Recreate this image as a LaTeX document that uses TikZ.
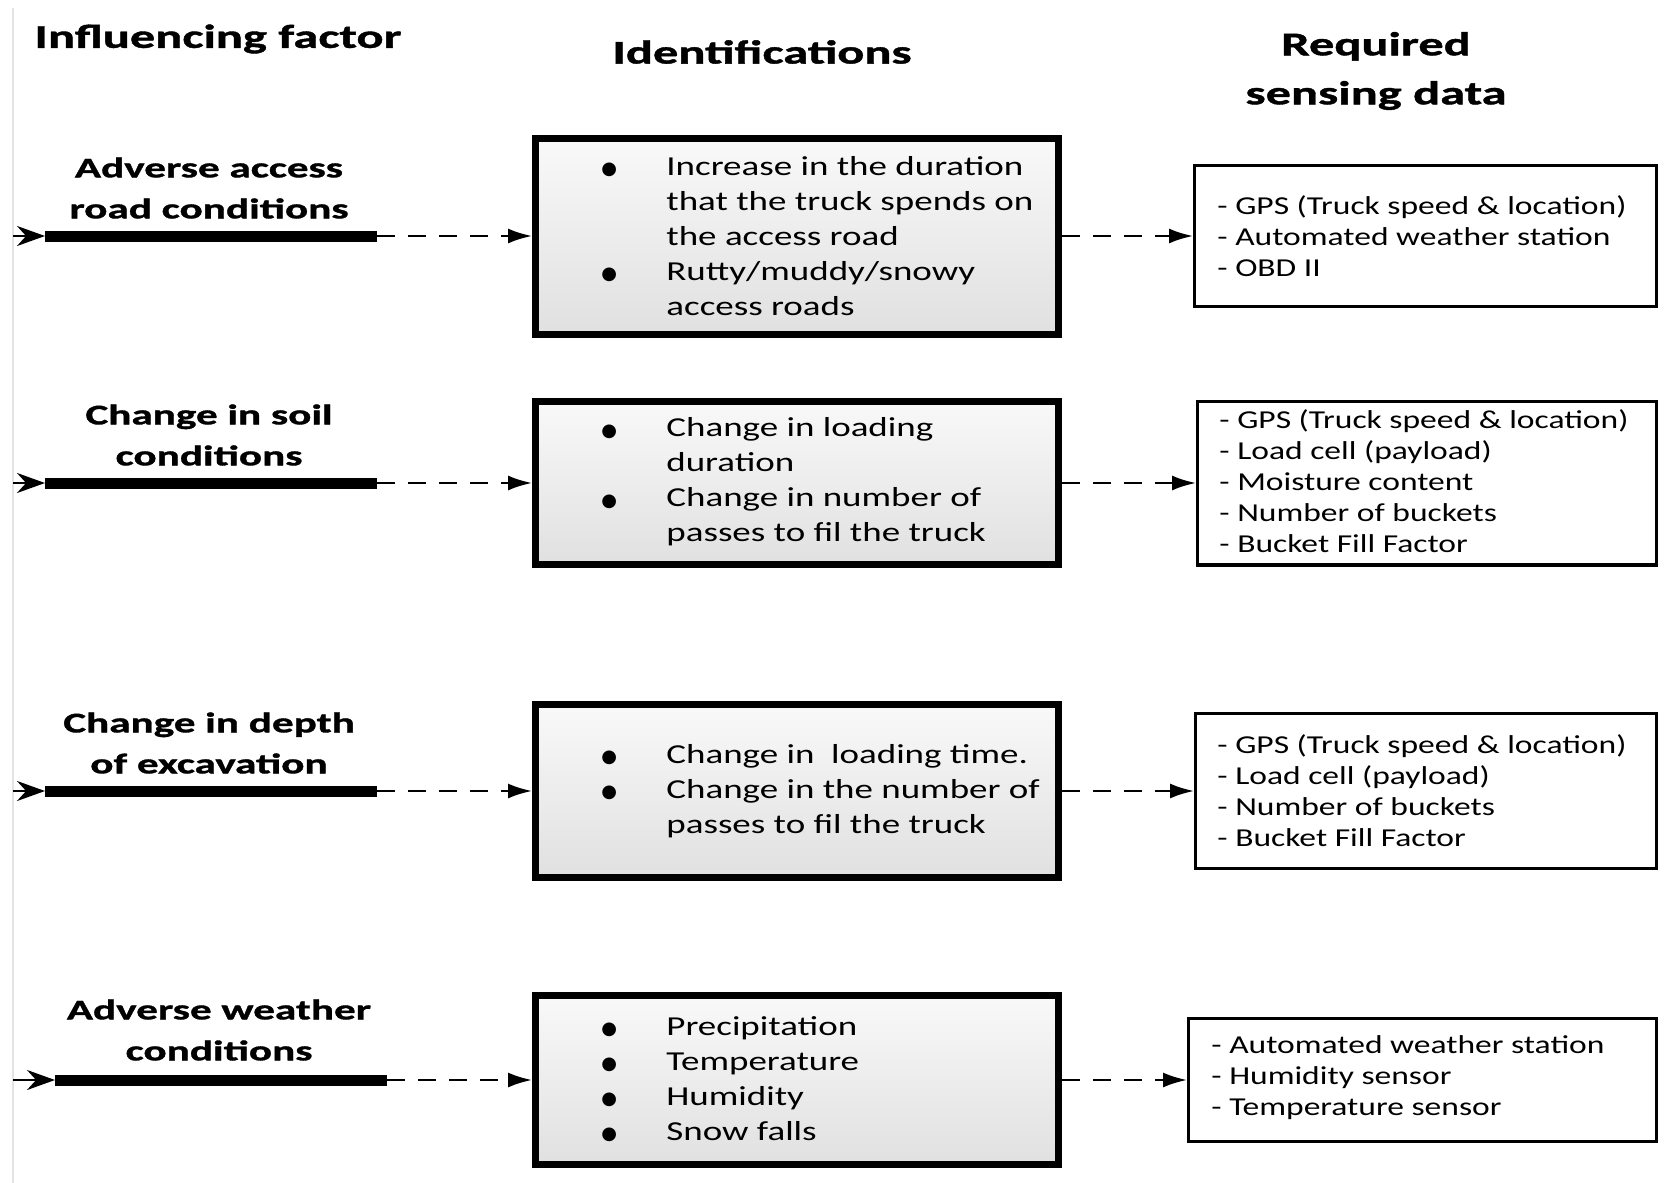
\documentclass[tikz,border=0pt]{standalone}
\usepackage{fontspec}
\setmainfont{Carlito}[FakeStretch=1.3]
\newfontfamily\listfont{Carlito}[FakeStretch=1.35]
\newfontfamily\headfont{Carlito}[FakeStretch=1.52, BoldFeatures={FakeBold=1.2}]
\newfontfamily\symfont{DejaVu Sans}
\usetikzlibrary{arrows.meta,shadows}

\colorlet{boxtop}{gray!5}
\colorlet{boxbot}{gray!24}
\definecolor{shadowtint}{RGB}{205,210,190}

% bullet mark and list indents
\newcommand\blt{\makebox[32.5pt][l]{\raisebox{0.3pt}{\fontsize{9}{9}\symfont ●}}}
\newcommand\ind{\hspace*{32.5pt}}

\begin{document}
\begin{tikzpicture}[x=0.5pt,y=-0.5pt,
  heading/.style={font=\headfont\bfseries\fontsize{16.6}{24.5}\selectfont, align=center, inner sep=0pt},
  factor/.style={font=\headfont\bfseries\fontsize{14.2}{20.5}\selectfont, align=center, inner sep=0pt},
  idbox/.style={draw=black, line width=3.5pt, top color=boxtop, bottom color=boxbot,
    minimum width=261.5pt, inner sep=0pt,
    drop shadow={shadow xshift=1.8pt, shadow yshift=-1.8pt, fill=shadowtint, opacity=0.9}},
  idtext/.style={font=\listfont\fontsize{13.7}{17.5}\selectfont, align=left, inner sep=0pt, anchor=west},
  rqbox/.style={draw=black, line width=1.7pt, fill=white, inner sep=0pt},
  rqtext/.style={font=\fontsize{12.9}{15.5}\selectfont, align=left, inner sep=0pt, anchor=west},
  bar/.style={line width=5.5pt},
  feed/.style={-{Stealth[length=14pt,width=10pt]}, line width=1.2pt},
  dasharrow/.style={line width=1.2pt, dash pattern=on 9pt off 6.5pt, -{Latex[length=12pt,width=7.5pt]}}
]
\fill[white] (0,0) rectangle (1665,1183);
\useasboundingbox (0,0) rectangle (1665,1183);

% left margin rule
\draw[gray!22, line width=1.2pt] (13,8) -- (13,1183);

% column headings
\node[heading] (hF) at (218,39) {Influencing factor};
\node[heading] (hI) at (762,52) {Identifications};
\node[heading] (hR) at (1376,71) {Required\\sensing data};

% influencing factors
\node[factor] (f1) at (209,188) {Adverse access\\road conditions};
\node[factor] (f2) at (209,435) {Change in soil\\conditions};
\node[factor] (f3) at (209,743) {Change in depth\\of excavation};
\node[factor] (f4) at (219,1030) {Adverse weather\\conditions};

% identification boxes
\node[idbox, minimum height=98pt]    (id1) at (797,236) {};
\node[idbox, minimum height=81.75pt] (id2) at (797,483) {};
\node[idbox, minimum height=86.25pt] (id3) at (797,791) {};
\node[idbox, minimum height=84.75pt] (id4) at (797,1080) {};

\node[idtext] (id1t) at (601,236) {\blt Increase in the duration\\\ind that the truck spends on\\\ind the access road\\\blt Rutty/muddy/snowy\\\ind access roads};
\node[idtext] (id2t) at (601,482) {\blt Change in loading\\\ind duration\\\blt Change in number of\\\ind passes to fil the truck};
\node[idtext] (id3t) at (601,791) {\blt Change in\ \ loading time.\\\blt Change in the number of\\\ind passes to fil the truck};
\node[idtext] (id4t) at (601,1079) {\blt Precipitation\\\blt Temperature\\\blt Humidity\\\blt Snow falls};

% required sensing data boxes
\node[rqbox, minimum width=230.8pt, minimum height=70.3pt] (rq1) at (1425.5,236) {};
\node[rqbox, minimum width=229.3pt, minimum height=81.8pt] (rq2) at (1427,483) {};
\node[rqbox, minimum width=230.3pt, minimum height=77.3pt] (rq3) at (1426,791) {};
\node[rqbox, minimum width=233.8pt, minimum height=61.3pt] (rq4) at (1422.5,1080) {};

\node[rqtext] (rq1t) at (1217,236) {- GPS (Truck speed \& location)\\- Automated weather station\\- OBD II};
\node[rqtext] (rq2t) at (1219,481) {- GPS (Truck speed \& location)\\- Load cell (payload)\\- Moisture content\\- Number of buckets\\- Bucket Fill Factor};
\node[rqtext] (rq3t) at (1217,791) {- GPS (Truck speed \& location)\\- Load cell (payload)\\- Number of buckets\\- Bucket Fill Factor};
\node[rqtext] (rq4t) at (1211,1078) {- Automated weather station\\- Humidity sensor\\- Temperature sensor};

% factor bars with their feed points
\coordinate (s1) at (13,236);  \coordinate (a1) at (45,236);  \coordinate (e1) at (377,236);
\coordinate (s2) at (13,483);  \coordinate (a2) at (45,483);  \coordinate (e2) at (377,483);
\coordinate (s3) at (13,791);  \coordinate (a3) at (45,791);  \coordinate (e3) at (377,791);
\coordinate (s4) at (13,1080); \coordinate (a4) at (55,1080); \coordinate (e4) at (387,1080);

\foreach \i in {1,2,3,4} {
  \draw[bar] (a\i) -- (e\i);
  \draw[feed] (s\i) -- (a\i);
  \draw[dasharrow] (e\i) -- (id\i.west);
  \draw[dasharrow] (id\i.east) -- (rq\i.west);
}
\end{tikzpicture}
\end{document}
